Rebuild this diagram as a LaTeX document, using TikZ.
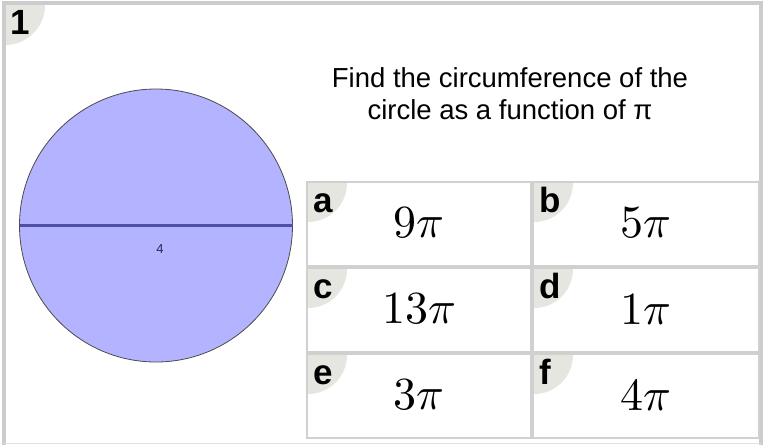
\documentclass[tikz,border=0pt]{standalone}
\usepackage{fontspec}
\usepackage{unicode-math}
\setmainfont{Liberation Sans}
\setmathfont{Latin Modern Math}
\definecolor{framegray}{HTML}{CCCCCC}
\definecolor{cellgray}{HTML}{D0D0D0}
\definecolor{badge}{HTML}{E6E6E0}
\definecolor{disc}{HTML}{B3B3FF}
\definecolor{diam}{HTML}{5050A8}
\definecolor{navy}{HTML}{282858}
\begin{document}
\begin{tikzpicture}[x=1pt,y=-1pt,
  cellbox/.style={draw=cellgray,line width=2pt,fill=white},
  badgetxt/.style={anchor=base west,inner sep=0pt,font=\fontsize{35}{35}\selectfont\bfseries},
  anstxt/.style={inner sep=0pt,font=\fontsize{46}{46}\selectfont}]
\useasboundingbox (0,0) rectangle (763,445);
\fill[white] (0,0) rectangle (763,445);
% outer frame
\draw[framegray,line width=4pt] (4,445) -- (4,3) -- (761,3) -- (761,445);
\draw[framegray!60,line width=1pt] (4,443.5) -- (761,443.5);
% badge 1
\begin{scope}
\clip (6,5) rectangle (100,100);
\fill[badge] (5,5) circle (40);
\end{scope}
\node[badgetxt] (n1) at (10,34) {1};
% circle
\draw[fill=disc,draw=black!70,line width=0.8pt] (156,225.5) circle (136.5);
\coordinate (dl) at (19.5,225.5);
\coordinate (dr) at (292.5,225.5);
\draw[diam,line width=2.2pt] (dl) -- (dr);
\node[text=navy,font=\fontsize{13}{13}\selectfont] (lab4) at (160,249) {4};
% title
\node[align=center,font=\fontsize{27.5}{32}\selectfont,inner sep=0pt] (title) at (510,94) {Find the circumference of the\\circle as a function of π};
% cells
\foreach \nm/\x/\y/\ans in {a/307/182/9,b/533/182/5,c/307/268/13,d/533/268/1,e/307/354/3,f/533/354/4}{
  \pgfmathsetmacro{\w}{ifthenelse(\x<400,224,226)}
  \draw[cellbox] (\x,\y) rectangle ++(\w,84);
  \begin{scope}
    \clip (\x+1,\y+1) rectangle ++(60,60);
    \fill[badge] (\x+1,\y+1) circle (39);
  \end{scope}
  \node[badgetxt] (l\nm) at (\x+6,\y+30) {\nm};
  \node[anstxt] (v\nm) at (\x+\w/2,\y+41) {$\ans\pi$};
}
\draw[cellgray,line width=2pt] (307,438) -- (531,438);
\end{tikzpicture}
\end{document}
